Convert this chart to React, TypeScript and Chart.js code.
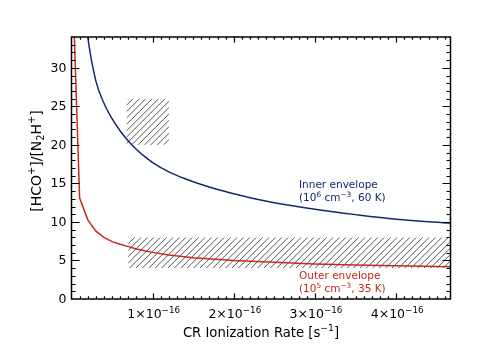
import React, { useEffect, useRef } from "react";
import { Chart, registerables } from "chart.js";

Chart.register(...registerables);

// x values in units of 1e-16 s^-1
const innerX = [0.15, 0.2, 0.3, 0.4, 0.5, 0.6, 0.7, 0.8, 0.9, 1.0, 1.2, 1.4, 1.6, 1.8, 2.0, 2.2, 2.5, 3.0, 3.5, 4.0, 4.67];
const innerY = [38.7, 34.0, 28.3, 25.4, 23.4, 21.8, 20.5, 19.4, 18.5, 17.7, 16.5, 15.6, 14.85, 14.2, 13.65, 13.15, 12.5, 11.65, 10.95, 10.35, 9.85];

const outerX = [0.01, 0.1, 0.2, 0.3, 0.4, 0.5, 0.6, 0.7, 0.8, 0.9, 1.0, 1.2, 1.5, 2.0, 2.5, 3.0, 3.5, 4.0, 4.67];
const outerY = [42.0, 13.1, 10.3, 8.8, 8.0, 7.45, 7.1, 6.8, 6.5, 6.25, 6.05, 5.7, 5.35, 5.0, 4.78, 4.55, 4.42, 4.3, 4.2];

const boxXMin = [0.68, 0.7];
const boxXMax = [1.2, 4.67];
const boxYMin = [20, 4];
const boxYMax = [26, 8];

const xTickValues = [1, 2, 3, 4];
const xTickMantissa = ["1", "2", "3", "4"];
const xTickExponent = "\u221216";
const yTickValues = [0, 5, 10, 15, 20, 25, 30];

const X_MIN = 0;
const X_MAX = 4.67;
const Y_MIN = 0;
const Y_MAX = 34;

const NAVY = "#14286e";
const RED = "#c42a1a";
const FONT = "'DejaVu Sans', sans-serif";

type Part = { t: string; s?: "sup" | "sub" };

function partFont(size: number, p: Part) {
  const sz = p.s ? size * 0.7 : size;
  return `${sz}px ${FONT}`;
}

function richWidth(ctx: CanvasRenderingContext2D, parts: Part[], size: number) {
  let w = 0;
  for (const p of parts) {
    ctx.font = partFont(size, p);
    w += ctx.measureText(p.t).width;
  }
  return w;
}

function drawRich(
  ctx: CanvasRenderingContext2D,
  parts: Part[],
  x: number,
  y: number,
  align: "left" | "center" | "right",
  size: number,
  color: string
) {
  const w = richWidth(ctx, parts, size);
  let cx = align === "left" ? x : align === "center" ? x - w / 2 : x - w;
  ctx.fillStyle = color;
  ctx.textAlign = "left";
  ctx.textBaseline = "alphabetic";
  for (const p of parts) {
    ctx.font = partFont(size, p);
    const dy = p.s === "sup" ? -size * 0.42 : p.s === "sub" ? size * 0.25 : 0;
    ctx.fillText(p.t, cx, y + dy);
    cx += ctx.measureText(p.t).width;
  }
}

const decorPlugin = {
  id: "decor",
  beforeDatasetsDraw(chart: any) {
    const { ctx } = chart;
    const xs = chart.scales.x;
    const ys = chart.scales.y;
    ctx.save();
    for (let i = 0; i < boxXMin.length; i++) {
      const x0 = xs.getPixelForValue(boxXMin[i]);
      const x1 = xs.getPixelForValue(boxXMax[i]);
      const y0 = ys.getPixelForValue(boxYMax[i]);
      const y1 = ys.getPixelForValue(boxYMin[i]);
      ctx.save();
      ctx.beginPath();
      ctx.rect(x0, y0, x1 - x0, y1 - y0);
      ctx.clip();
      ctx.strokeStyle = "#444";
      ctx.lineWidth = 0.9;
      const h = y1 - y0;
      const step = 6.4;
      ctx.beginPath();
      for (let s = x0 - h; s < x1 + step; s += step) {
        ctx.moveTo(s, y1);
        ctx.lineTo(s + h, y0);
      }
      ctx.stroke();
      ctx.restore();
    }
    ctx.restore();
  },
  afterDraw(chart: any) {
    const { ctx, chartArea } = chart;
    const xs = chart.scales.x;
    const ys = chart.scales.y;
    const { left, right, top, bottom } = chartArea;
    ctx.save();
    // frame
    ctx.strokeStyle = "#000";
    ctx.lineWidth = 1.5;
    ctx.strokeRect(left, top, right - left, bottom - top);
    // y ticks
    ctx.lineWidth = 1.2;
    ctx.beginPath();
    for (let v = Y_MIN + 1; v < Y_MAX; v += 1) {
      const py = Math.round(ys.getPixelForValue(v)) + 0.5;
      const len = v % 5 === 0 ? 8 : 4;
      ctx.moveTo(left, py);
      ctx.lineTo(left + len, py);
      ctx.moveTo(right, py);
      ctx.lineTo(right - len, py);
    }
    // x ticks
    for (let k = 1; k * 0.1 < X_MAX - 0.001; k++) {
      const v = k * 0.1;
      const px = Math.round(xs.getPixelForValue(v)) + 0.5;
      const len = k % 10 === 0 ? 5.5 : 2.8;
      ctx.moveTo(px, bottom);
      ctx.lineTo(px, bottom - len);
      ctx.moveTo(px, top);
      ctx.lineTo(px, top + len);
    }
    ctx.stroke();

    // y tick labels
    ctx.fillStyle = "#000";
    ctx.font = `12.5px ${FONT}`;
    ctx.textAlign = "right";
    ctx.textBaseline = "middle";
    for (const v of yTickValues) {
      ctx.fillText(String(v), left - 5, ys.getPixelForValue(v) + 0.5);
    }
    // x tick labels
    xTickValues.forEach((v, i) => {
      drawRich(
        ctx,
        [{ t: xTickMantissa[i] + "\u00d710" }, { t: xTickExponent, s: "sup" }],
        xs.getPixelForValue(v) + 1,
        318,
        "center",
        12.5,
        "#000"
      );
    });
    // x title
    drawRich(
      ctx,
      [{ t: "CR Ionization Rate [s" }, { t: "\u22121", s: "sup" }, { t: "]" }],
      (left + right) / 2,
      336.5,
      "center",
      13.2,
      "#000"
    );
    // y title
    ctx.save();
    ctx.translate(40.5, 161);
    ctx.rotate(-Math.PI / 2);
    drawRich(
      ctx,
      [
        { t: "[HCO" },
        { t: "+", s: "sup" },
        { t: "]/[N" },
        { t: "2", s: "sub" },
        { t: "H" },
        { t: "+", s: "sup" },
        { t: "]" },
      ],
      0,
      0,
      "center",
      14,
      "#000"
    );
    ctx.restore();

    // annotations
    drawRich(ctx, [{ t: "Inner envelope" }], 299, 187.5, "left", 10.5, NAVY);
    drawRich(
      ctx,
      [{ t: "(10" }, { t: "6", s: "sup" }, { t: " cm" }, { t: "\u22123", s: "sup" }, { t: ", 60 K)" }],
      299,
      201,
      "left",
      10.5,
      NAVY
    );
    drawRich(ctx, [{ t: "Outer envelope" }], 299, 278.5, "left", 10.5, RED);
    drawRich(
      ctx,
      [{ t: "(10" }, { t: "5", s: "sup" }, { t: " cm" }, { t: "\u22123", s: "sup" }, { t: ", 35 K)" }],
      299,
      292,
      "left",
      10.5,
      RED
    );
    ctx.restore();
  },
};

export default function App() {
  const ref = useRef<HTMLCanvasElement | null>(null);
  useEffect(() => {
    if (!ref.current) return;
    const chart = new Chart(ref.current, {
      type: "scatter",
      data: {
        datasets: [
          {
            data: innerX.map((x, i) => ({ x, y: innerY[i] })),
            showLine: true,
            borderColor: NAVY,
            borderWidth: 1.5,
            pointRadius: 0,
            cubicInterpolationMode: "monotone",
          },
          {
            data: outerX.map((x, i) => ({ x, y: outerY[i] })),
            showLine: true,
            borderColor: RED,
            borderWidth: 1.5,
            pointRadius: 0,
          },
        ],
      },
      options: {
        animation: false,
        responsive: false,
        devicePixelRatio: 1,
        layout: { padding: { left: 71.5, right: 40.5, top: 37, bottom: 51 } },
        scales: {
          x: { type: "linear", min: X_MIN, max: X_MAX, display: false },
          y: { type: "linear", min: Y_MIN, max: Y_MAX, display: false },
        },
        plugins: { legend: { display: false }, tooltip: { enabled: false } },
      },
      plugins: [decorPlugin],
    } as any);
    return () => chart.destroy();
  }, []);
  return (
    <div style={{ position: "fixed", left: 0, top: 0, width: 491, height: 350, background: "#fff" }}>
      <canvas ref={ref} width={491} height={350} style={{ display: "block" }} />
    </div>
  );
}
